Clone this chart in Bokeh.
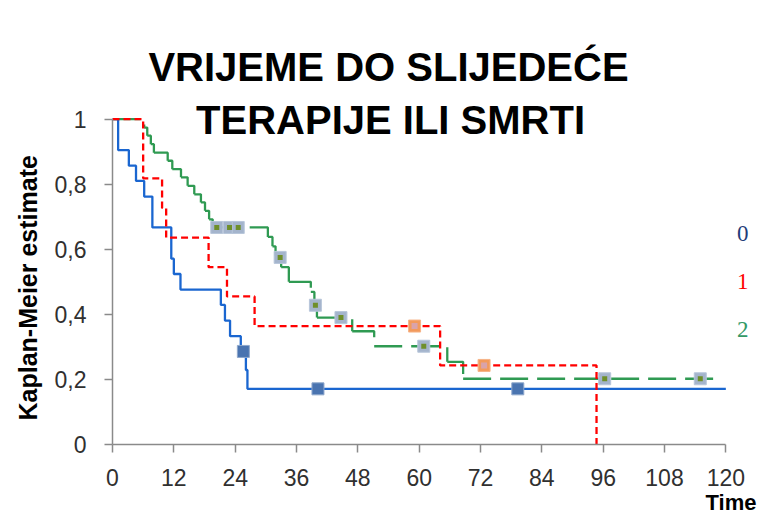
import numpy as np
from bokeh.plotting import figure
from bokeh.models import Range1d, FixedTicker, Label, Title
from bokeh.embed import file_html
from bokeh.resources import INLINE

# ---- data ----
# group 0 : step times and survival after each step
t0 = [0, 1.1, 3.2, 4.6, 6.2, 7.8, 11.5, 12.0, 13.3, 21.2, 22.0, 23.0, 25.1, 26.1, 26.4]
s0 = [1.0, 0.905, 0.857, 0.810, 0.762, 0.667, 0.571, 0.524, 0.476, 0.429, 0.381, 0.333, 0.286, 0.229, 0.171]
end0 = 120.0
c0_t = [25.6, 40.2, 79.3]
c0_s = [0.286, 0.171, 0.171]

# group 1
t1 = [0, 6.0, 9.7, 10.5, 18.8, 22.4, 27.8, 64.1, 94.7]
s1 = [1.0, 0.818, 0.727, 0.636, 0.545, 0.455, 0.364, 0.243, 0.0]
end1 = 94.7
c1_t = [59.1, 72.7]
c1_s = [0.364, 0.243]

# group 2
t2 = [0, 6.2, 6.8, 7.5, 8.1, 10.8, 11.7, 13.4, 14.7, 16.0, 17.3, 18.1, 18.9, 19.6,
      30.4, 31.3, 31.9, 33.0, 34.5, 38.8, 39.5, 40.0, 46.9, 51.2, 65.5, 68.6]
s2 = [1.0, 0.974, 0.949, 0.923, 0.897, 0.872, 0.846, 0.821, 0.795, 0.769, 0.744, 0.718, 0.692, 0.667,
      0.638, 0.609, 0.580, 0.545, 0.500, 0.469, 0.428, 0.390, 0.348, 0.302, 0.254, 0.202]
end2 = 119.0
c2_t = [20.4, 22.9, 24.6, 32.8, 39.7, 44.7, 60.9, 96.3, 115.0]
c2_s = [0.667, 0.667, 0.667, 0.575, 0.428, 0.390, 0.302, 0.202, 0.202]

x_ticks = [0, 12, 24, 36, 48, 60, 72, 84, 96, 108, 120]
y_ticks = [0, 0.2, 0.4, 0.6, 0.8, 1.0]
y_tick_labels = ["0", "0,2", "0,4", "0,6", "0,8", "1"]
group_names = ["0", "1", "2"]
title_lines = ["VRIJEME DO SLIJEDEĆE", "TERAPIJE ILI SMRTI"]


def step_path(t, s, end):
    xs, ys = [t[0]], [s[0]]
    for i in range(1, len(t)):
        xs += [t[i], t[i]]
        ys += [s[i - 1], s[i]]
    if end > t[-1]:
        xs.append(end)
        ys.append(s[-1])
    return xs, ys


def step_segments(t, s, end):
    xs_list, ys_list = [], []
    for i in range(len(t) - 1):
        xs_list.append([t[i], t[i + 1], t[i + 1]])
        ys_list.append([s[i], s[i], s[i + 1]])
    xs_list.append([t[-1], end])
    ys_list.append([s[-1], s[-1]])
    return xs_list, ys_list


p = figure(width=758, height=513, output_backend="svg", toolbar_location=None,
           x_range=Range1d(0, 126), y_range=Range1d(0, 1.3),
           min_border_left=112, min_border_right=2, min_border_top=21, min_border_bottom=69)
p.outline_line_color = None
p.grid.visible = False
p.background_fill_color = "white"
p.border_fill_color = "white"

AX = "#8a8a8a"
TICKC = "#303030"
for ax in (p.xaxis[0], p.yaxis[0]):
    ax.axis_line_color = AX
    ax.axis_line_width = 1.5
    ax.major_tick_line_color = AX
    ax.major_tick_line_width = 1.5
    ax.major_tick_out = 8
    ax.major_tick_in = 0
    ax.minor_tick_line_color = None
    ax.major_label_text_font = "Liberation Sans"
    ax.major_label_text_font_size = "23px"
    ax.major_label_text_color = TICKC

p.xaxis.ticker = FixedTicker(ticks=x_ticks)
p.yaxis.ticker = FixedTicker(ticks=y_ticks)
p.xaxis.bounds = (0, 120)
p.yaxis.bounds = (0, 1)
p.xaxis.major_label_standoff = 16
p.yaxis.major_label_standoff = 18
p.yaxis.major_label_overrides = {v: l for v, l in zip(y_ticks, y_tick_labels)}

# curves
gx, gy = step_segments(t2, s2, end2)
p.multi_line(gx, gy, line_color="#2f9a52", line_width=2.3, line_dash="28 9")

bx, by = step_path(t0, s0, end0)
p.line(bx, by, line_color="#1a66d0", line_width=2.3)

rx, ry = step_path(t1, s1, end1)
p.line(rx, ry, line_color="#ff0000", line_width=2.3, line_dash="7 4")

# censor marks
p.scatter(c0_t, c0_s, marker="square", size=12, fill_color="#4a74b0",
          line_color="#8fa8cc", line_width=1)
p.scatter(c2_t, c2_s, marker="square", size=12, fill_color="#a4b4cc",
          line_color="#b8c6da", line_width=1)
p.scatter(c2_t, c2_s, marker="square", size=5, fill_color="#6f8f2a", line_color=None)
p.scatter(c1_t, c1_s, marker="square", size=12, fill_color="#f29a5c",
          line_color="#f6b488", line_width=1)
p.scatter(c1_t, c1_s, marker="square", size=6, fill_color="#d9a3aa", line_color=None)

# legend texts (inside the frame, right of the axis bounds)
leg_colors = ["#1f3d7a", "#ff0000", "#339966"]
leg_y = [0.649, 0.502, 0.354]
for name, col, yy in zip(group_names, leg_colors, leg_y):
    p.add_layout(Label(x=123.3, y=yy, text=name, text_color=col,
                       text_font="Liberation Serif", text_font_size="23px",
                       text_align="center", text_baseline="middle"))

# chart title (two lines, inside the frame area)
p.add_layout(Label(x=54.0, y=1.160, text=title_lines[0], text_font="Liberation Sans",
                   text_font_style="bold", text_font_size="40px", text_color="black",
                   text_align="center", text_baseline="middle"))
p.add_layout(Label(x=54.4, y=0.998, text=title_lines[1], text_font="Liberation Sans",
                   text_font_style="bold", text_font_size="40px", text_color="black",
                   text_align="center", text_baseline="middle"))

# axis titles
p.add_layout(Title(text="Kaplan-Meier estimate", align="left", offset=24, standoff=20,
                   text_font="Liberation Sans", text_font_style="bold", text_font_size="25px",
                   text_color="black"), "left")
p.add_layout(Title(text="Time", align="right", offset=0, standoff=-2,
                   text_font="Liberation Sans", text_font_style="bold", text_font_size="22px",
                   text_color="black"), "below")

open("out.html", "w").write(file_html(p, INLINE))
